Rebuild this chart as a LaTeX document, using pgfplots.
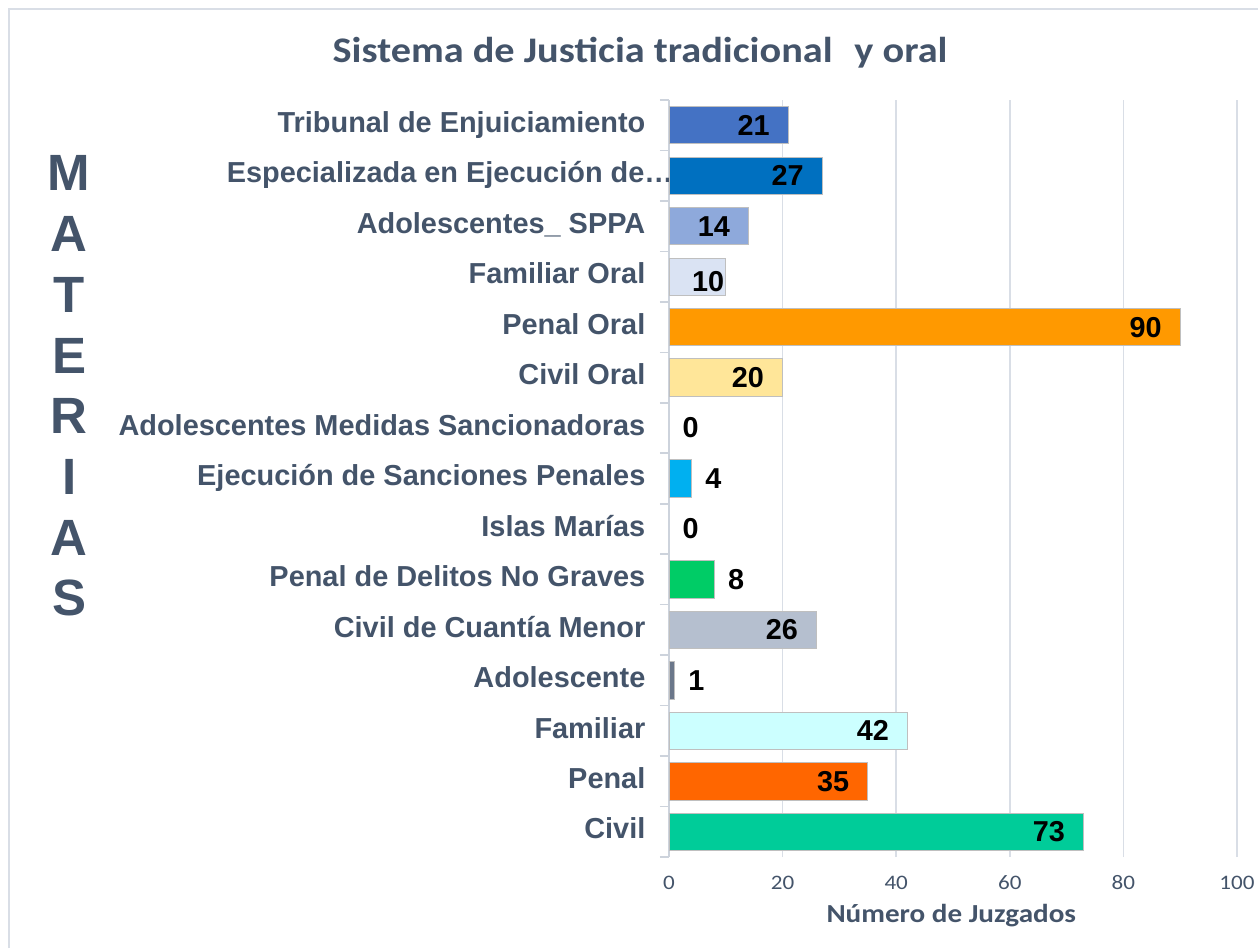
\documentclass[border=0pt]{standalone}
\usepackage{pgfplots}
\pgfplotsset{compat=1.18}
\usepackage{fontspec}
\setmainfont{Liberation Sans}
\newfontfamily\carlito[FakeStretch=1.12]{Carlito}
\definecolor{txt}{HTML}{44546A}
\definecolor{gridc}{HTML}{D9DEE6}
\definecolor{axc}{HTML}{CDD3DC}
\definecolor{barb}{HTML}{BFBFBF}
\definecolor{cTrib}{HTML}{4472C4}
\definecolor{cEsp}{HTML}{0070C0}
\definecolor{cSPPA}{HTML}{8EA9DB}
\definecolor{cFamO}{HTML}{DAE3F3}
\definecolor{cPenO}{HTML}{FF9900}
\definecolor{cCivO}{HTML}{FFE699}
\definecolor{cEjec}{HTML}{00B0F0}
\definecolor{cNoGr}{HTML}{00CC66}
\definecolor{cCuan}{HTML}{B5BFCF}
\definecolor{cAdol}{HTML}{6B778A}
\definecolor{cFam}{HTML}{CCFFFF}
\definecolor{cPen}{HTML}{FF6600}
\definecolor{cCiv}{HTML}{00CC99}
\begin{document}
\begin{tikzpicture}
\path[use as bounding box] (0,0) rectangle (629pt,474pt);
\draw[gridc, line width=1.2pt] (4.5pt,0) -- (4.5pt,469.5pt) -- (629pt,469.5pt);
\begin{axis}[
  at={(334.5pt,45.5pt)}, anchor=south west,
  scale only axis, width=284pt, height=378.5pt,
  xbar, bar shift=0pt, bar width=0.74,
  xmin=0, xmax=100, ymin=-0.5, ymax=14.5,
  xtick={0,20,...,100},
  ytick={0,...,14},
  yticklabels={Civil, Penal, Familiar, Adolescente, Civil de Cuantía Menor, Penal de Delitos No Graves, Islas Marías, Ejecución de Sanciones Penales, Adolescentes Medidas Sancionadoras, Civil Oral, Penal Oral, Familiar Oral, Adolescentes\_ SPPA, {Especializada en Ejecución de…\kern-14pt\null}, Tribunal de Enjuiciamiento},
  minor ytick={-0.5,0.5,...,14.5},
  major tick length=0pt, minor tick length=4.5pt,
  tick align=outside,
  axis lines*=left,
  x axis line style={draw=none},
  y axis line style={draw=axc, line width=0.8pt},
  minor tick style={draw=axc, line width=0.8pt},
  xmajorgrids, grid style={draw=gridc, line width=0.8pt},
  /pgf/number format/assume math mode=true,
  xticklabel style={font=\carlito\fontsize{10.3}{12}\selectfont, text=txt, anchor=base},
  xticklabel shift=16pt,
  yticklabel style={font=\bfseries\fontsize{14.45}{16}\selectfont, text=txt, anchor=base east, yshift=-0.36em},
  yticklabel shift=8.3pt,
  title={Sistema de Justicia tradicional\hspace{0.6em}y oral},
  title style={at={(axis description cs:-0.051,1.050)}, anchor=base, yshift=-6pt, font=\carlito\bfseries\fontsize{18}{21}\selectfont, text=txt},
  xlabel={Número de Juzgados},
  xlabel style={at={(axis description cs:0.497,-0.0859)}, anchor=base, font=\carlito\bfseries\fontsize{13}{15}\selectfont, text=txt},
  ylabel={M\\A\\T\\E\\R\\I\\A\\S},
  ylabel style={rotate=-90, at={(axis description cs:-1.056,0.622)}, anchor=center, align=center, font=\bfseries\fontsize{25.5}{30.36}\selectfont, text=txt},
  point meta=x,
  every axis plot/.append style={draw=barb, line width=0.4pt},
  inside/.style={nodes near coords, every node near coord/.append style={anchor=east, xshift=-5.8pt, font=\bfseries\fontsize{14.4}{16}\selectfont, text=black}},
  outside/.style={nodes near coords, every node near coord/.append style={anchor=west, xshift=3.3pt, font=\bfseries\fontsize{14.4}{16}\selectfont, text=black}},
]
\addplot[fill=cCiv, inside] coordinates {(73,0)};
\addplot[fill=cPen, inside] coordinates {(35,1)};
\addplot[fill=cFam, inside] coordinates {(42,2)};
\addplot[fill=cAdol, outside] coordinates {(1,3)};
\addplot[fill=cCuan, inside] coordinates {(26,4)};
\addplot[fill=cNoGr, outside] coordinates {(8,5)};
\addplot[draw=none, fill=none, outside] coordinates {(0,6)};
\addplot[fill=cEjec, outside] coordinates {(4,7)};
\addplot[draw=none, fill=none, outside] coordinates {(0,8)};
\addplot[fill=cCivO, inside] coordinates {(20,9)};
\addplot[fill=cPenO, inside] coordinates {(90,10)};
\addplot[fill=cFamO, inside, every node near coord/.append style={xshift=8.5pt, yshift=-2.5pt}] coordinates {(10,11)};
\addplot[fill=cSPPA, inside] coordinates {(14,12)};
\addplot[fill=cEsp, inside] coordinates {(27,13)};
\addplot[fill=cTrib, inside] coordinates {(21,14)};
\end{axis}
\end{tikzpicture}
\end{document}
